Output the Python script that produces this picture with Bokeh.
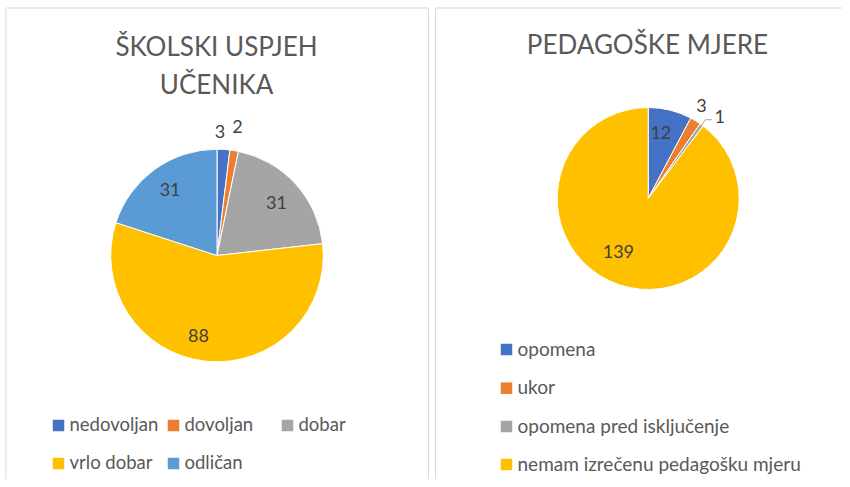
import numpy as np
from bokeh.plotting import figure
from bokeh.models import Range1d
from bokeh.embed import file_html
from bokeh.resources import INLINE
from bokeh.core.properties import value

# ---------------- data ----------------
uspjeh_naslov = ["ŠKOLSKI USPJEH", "UČENIKA"]
uspjeh_kategorije = ["nedovoljan", "dovoljan", "dobar", "vrlo dobar", "odličan"]
uspjeh_vrijednosti = [3, 2, 31, 88, 31]
uspjeh_boje = ["#4472C4", "#ED7D31", "#A5A5A5", "#FFC000", "#5B9BD5"]

mjere_naslov = ["PEDAGOŠKE MJERE"]
mjere_kategorije = ["opomena", "ukor", "opomena pred isključenje", "nemam izrečenu pedagošku mjeru"]
mjere_vrijednosti = [12, 3, 1, 139]
mjere_boje = ["#4472C4", "#ED7D31", "#A5A5A5", "#FFC000"]

# ---------------- layout ----------------
FONT = "Lato"
TXT = "#595959"
LBL = "#404040"
W, H = 842, 479


def Y(sy):
    return 487 - sy


p = figure(width=W, height=H, x_range=Range1d(0, W), y_range=Range1d(487 - H, 487),
           output_backend="svg", toolbar_location=None, min_border=0)
p.axis.visible = False
p.grid.visible = False
p.outline_line_color = None
p.background_fill_color = "white"
p.border_fill_color = "white"

# panel borders
p.line(x=[5.5, 5.5, 428, 428], y=[Y(600), Y(7.5), Y(7.5), Y(600)], line_color="#D9D9D9", line_width=1)
p.line(x=[435, 435, 900], y=[Y(600), Y(7.5), Y(7.5)], line_color="#D9D9D9", line_width=1)


def draw_pie(vals, colors, cx, cy, r, rfrac, aoff, lead=None):
    vals = np.array(vals, dtype=float)
    frac = vals / vals.sum()
    cum = np.concatenate([[0.0], np.cumsum(frac)])
    start = np.pi / 2 - cum[:-1] * 2 * np.pi
    end = np.pi / 2 - cum[1:] * 2 * np.pi
    p.wedge(x=cx, y=Y(cy), radius=r, start_angle=list(start), end_angle=list(end),
            direction="clock", fill_color=colors, line_color="white", line_width=1)
    mid_deg = (cum[:-1] + cum[1:]) / 2 * 360 + np.array(aoff)
    rr = r * np.array(rfrac)
    lx = cx + rr * np.sin(np.radians(mid_deg))
    ly = Y(cy) + rr * np.cos(np.radians(mid_deg))
    p.text(x=list(lx), y=list(ly), text=[str(int(v)) for v in vals],
           text_font=value(FONT), text_font_size="18px", text_color=LBL,
           text_align="center", text_baseline="middle")
    if lead is not None:
        m = np.radians((cum[lead] + cum[lead + 1]) / 2 * 360)
        x0, y0 = cx + r * np.sin(m), Y(cy) + r * np.cos(m)
        x1, y1 = cx + r * 1.07 * np.sin(m), Y(cy) + r * 1.07 * np.cos(m)
        p.line(x=[x0, x1, lx[lead] - 8], y=[y0, y1, y1], line_color="#A6A6A6", line_width=1)


# left pie
draw_pie(uspjeh_vrijednosti, uspjeh_boje, 216.5, 255, 106.3,
         [1.17, 1.23, 0.75, 0.77, 0.76], [-2.1, -0.3, 0.7, 7.3, 0.5])
# right pie
draw_pie(mjere_vrijednosti, mjere_boje, 647.7, 198, 91,
         [0.74, 1.18, 1.2, 0.67], [-3.1, -1.6, 5, 10.7], lead=2)

# titles
p.text(x=[216, 216], y=[Y(45), Y(83)], text=uspjeh_naslov,
       text_font=value(FONT), text_font_size="26px", text_color=TXT,
       text_align="center", text_baseline="middle")
p.text(x=[647], y=[Y(43)], text=mjere_naslov,
       text_font=value(FONT), text_font_size="26px", text_color=TXT,
       text_align="center", text_baseline="middle")

# left legend (Excel-style rows)
leg_sq_x = [58, 173, 287, 58, 173]
leg_row_y = [425, 425, 425, 463, 463]
p.rect(x=leg_sq_x, y=[Y(v) for v in leg_row_y], width=11.5, height=11.5,
       fill_color=uspjeh_boje, line_color=None)
p.text(x=[v + 11 for v in leg_sq_x], y=[Y(v - 1.5) for v in leg_row_y], text=uspjeh_kategorije,
       text_font=value(FONT), text_font_size="18.5px", text_color=TXT,
       text_align="left", text_baseline="middle")

# right legend
r_sq_y = [349, 387.7, 426, 464]
p.rect(x=[506] * 4, y=[Y(v) for v in r_sq_y], width=11.5, height=11.5,
       fill_color=mjere_boje, line_color=None)
p.text(x=[517] * 4, y=[Y(v - 1.5) for v in r_sq_y], text=mjere_kategorije,
       text_font=value(FONT), text_font_size="19px", text_color=TXT,
       text_align="left", text_baseline="middle")

open("out.html", "w").write(file_html(p, INLINE))
